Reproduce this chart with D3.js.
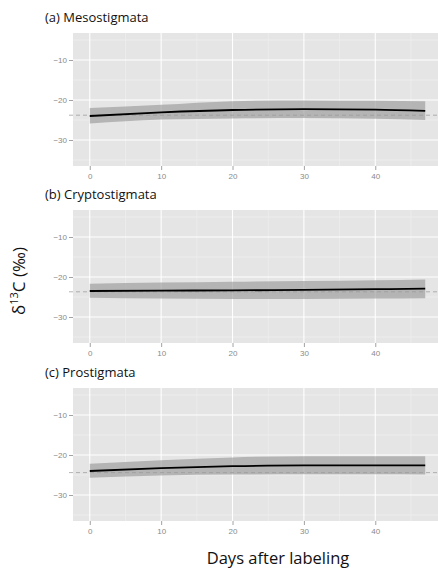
<!DOCTYPE html>
<html>
<head>
<meta charset="utf-8">
<script src="https://cdn.jsdelivr.net/npm/d3@7"></script>
<style>
  body { margin: 0; background: #fff; }
  svg { display: block; }
</style>
</head>
<body>
<svg id="chart" width="438" height="569"></svg>
<script>
// Data
var days = [0, 10, 20, 30, 40, 47];
var panelTitles = ["(a) Mesostigmata", "(b) Cryptostigmata", "(c) Prostigmata"];
var fitLine = [
    [-24.0, -23.1, -22.5, -22.3, -22.4, -22.7],
    [-23.5, -23.4, -23.35, -23.2, -23.05, -22.9],
    [-24.0, -23.3, -22.8, -22.6, -22.6, -22.6]
];
var bandUpper = [
    [-22.0, -21.2, -20.3, -20.1, -20.2, -20.3],
    [-21.7, -21.4, -21.2, -21.0, -20.8, -20.6],
    [-22.2, -21.3, -20.6, -20.3, -20.3, -20.3]
];
var bandLower = [
    [-25.9, -24.9, -24.6, -24.5, -24.7, -25.0],
    [-25.2, -25.4, -25.5, -25.5, -25.4, -25.3],
    [-25.7, -25.1, -24.9, -24.8, -24.8, -24.9]
];
var refLine = [-23.8, -23.7, -24.4];
var xTicks = [0, 10, 20, 30, 40];
var xMinor = [5, 15, 25, 35, 45];
var yTicks = [-10, -20, -30];
var yMinor = [-5, -15, -25, -35];

var svg = d3.select("#chart");

// Layout
var panelLeft = 73, panelRight = 442, panelHeight = 133;
var panelTops = [33, 210, 388];

var x = d3.scaleLinear()
    .domain([-2.35, 49.35])
    .range([panelLeft, panelRight]);

panelTops.forEach(function(top, p) {
    var y = d3.scaleLinear()
        .domain([-36.5, -3.25])
        .range([top + panelHeight, top]);

    var g = svg.append("g");

    // panel title
    svg.append("text")
        .attr("x", 45)
        .attr("y", top - 11)
        .style("font-family", "'Open Sans', sans-serif")
        .style("font-size", "13px")
        .style("fill", "#111")
        .text(panelTitles[p]);

    // grey background
    g.append("rect")
        .attr("x", panelLeft)
        .attr("y", top)
        .attr("width", panelRight - panelLeft)
        .attr("height", panelHeight)
        .style("fill", "#e5e5e5");

    // minor grid
    g.selectAll(".vminor").data(xMinor).enter().append("line")
        .attr("x1", d => x(d)).attr("x2", d => x(d))
        .attr("y1", top).attr("y2", top + panelHeight)
        .style("stroke", "#f2f2f2").style("stroke-width", 0.6);
    g.selectAll(".hminor").data(yMinor).enter().append("line")
        .attr("x1", panelLeft).attr("x2", panelRight)
        .attr("y1", d => y(d)).attr("y2", d => y(d))
        .style("stroke", "#f2f2f2").style("stroke-width", 0.6);

    // major grid
    g.selectAll(".vmajor").data(xTicks).enter().append("line")
        .attr("x1", d => x(d)).attr("x2", d => x(d))
        .attr("y1", top).attr("y2", top + panelHeight)
        .style("stroke", "#fff").style("stroke-width", 1.1);
    g.selectAll(".hmajor").data(yTicks).enter().append("line")
        .attr("x1", panelLeft).attr("x2", panelRight)
        .attr("y1", d => y(d)).attr("y2", d => y(d))
        .style("stroke", "#fff").style("stroke-width", 1.1);

    // dashed reference line
    g.append("line")
        .attr("x1", panelLeft - 4).attr("x2", panelRight)
        .attr("y1", y(refLine[p])).attr("y2", y(refLine[p]))
        .style("stroke", "#a0a0a0")
        .style("stroke-width", 0.8)
        .style("stroke-dasharray", "4,3");

    // confidence band
    var rows = days.map(function(d, i) {
        return { day: d, fit: fitLine[p][i], lo: bandLower[p][i], hi: bandUpper[p][i] };
    });

    var area = d3.area()
        .x(d => x(d.day))
        .y0(d => y(d.lo))
        .y1(d => y(d.hi))
        .curve(d3.curveMonotoneX);

    g.append("path")
        .datum(rows)
        .attr("d", area)
        .style("fill", "#999")
        .style("fill-opacity", 0.65);

    var line = d3.line()
        .x(d => x(d.day))
        .y(d => y(d.fit))
        .curve(d3.curveMonotoneX);

    g.append("path")
        .datum(rows)
        .attr("d", line)
        .style("fill", "none")
        .style("stroke", "#000")
        .style("stroke-width", 1.8);

    // axes
    var yAxis = g.append("g")
        .attr("transform", "translate(" + panelLeft + ",0)")
        .call(d3.axisLeft(y).tickValues(yTicks).tickSize(4).tickPadding(2)
            .tickFormat(d => "\u2212" + Math.abs(d)));
    var xAxis = g.append("g")
        .attr("transform", "translate(0," + (top + panelHeight) + ")")
        .call(d3.axisBottom(x).tickValues(xTicks).tickSize(4).tickPadding(3));

    [yAxis, xAxis].forEach(function(a) {
        a.select(".domain").remove();
        a.selectAll("line").style("stroke", "#8a8a8a").style("stroke-width", 0.8);
        a.selectAll("text")
            .style("font-family", "'Liberation Sans', Arial, sans-serif")
            .style("font-size", "8px")
            .style("fill", "#8a8a8a");
    });
});

// y-axis label
var yLabel = svg.append("text")
    .attr("transform", "translate(25,281) rotate(-90)")
    .style("text-anchor", "middle")
    .style("font-family", "'Open Sans', sans-serif")
    .style("font-size", "17px")
    .style("fill", "#111");
yLabel.append("tspan").text("\u03b4");
yLabel.append("tspan").attr("dy", "-7").style("font-size", "11px").text("13");
yLabel.append("tspan").attr("dy", "7").text("C (\u2030)");

// x-axis label
svg.append("text")
    .attr("x", 278)
    .attr("y", 564)
    .style("text-anchor", "middle")
    .style("font-family", "'Open Sans', sans-serif")
    .style("font-size", "16.5px")
    .style("fill", "#111")
    .text("Days after labeling");
</script>
</body>
</html>
